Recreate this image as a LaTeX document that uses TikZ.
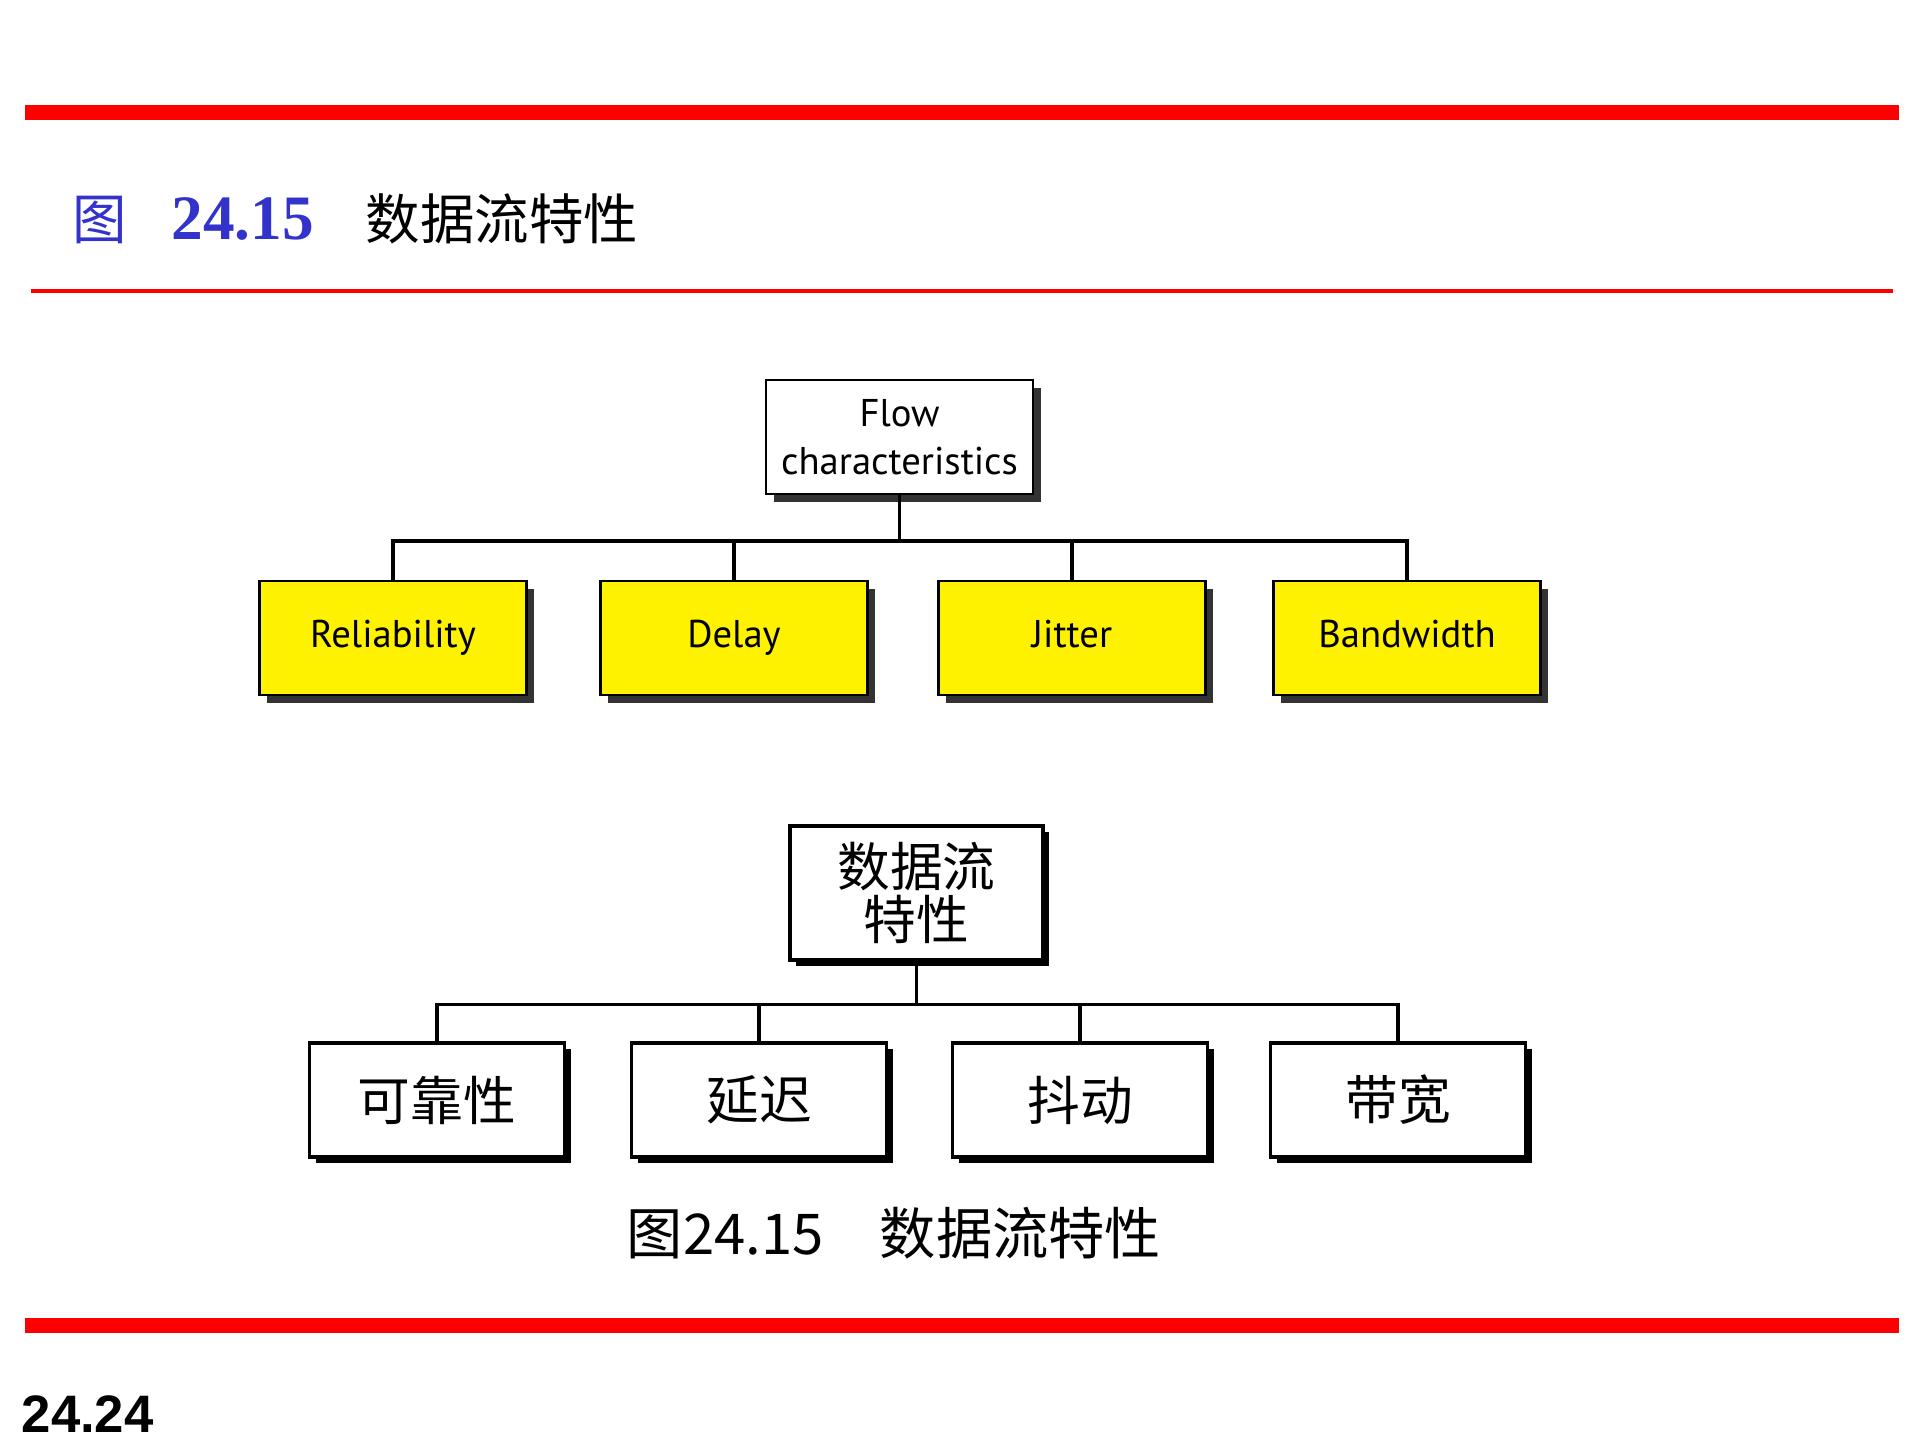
\documentclass[tikz,border=0pt]{standalone}
\usepackage{fontspec}
\setmainfont{Liberation Serif}
\newfontfamily\cjk{Noto Sans CJK SC}
\newfontfamily\boxfont{PT Sans}
\newfontfamily\pagefont{Liberation Sans}
\usetikzlibrary{shadows}
\definecolor{titleblue}{RGB}{51,51,204}
\definecolor{shadowgray}{RGB}{51,51,51}
\begin{document}
\begin{tikzpicture}[
    link/.style={line width=1.05pt},
    rule/.style={red, line width=0.15cm},
    flowbox/.style={rectangle, draw, line width=0.7pt, fill=white, minimum width=2.67cm, minimum height=1.14cm, inner sep=0pt, align=center, font={\boxfont\fontsize{11}{13.5}\selectfont}, drop shadow={shadow xshift=0.075cm, shadow yshift=-0.08cm, fill=shadowgray, opacity=1}},
    leaf/.style={flowbox, fill=yellow, text height=8pt, text depth=2.5pt},
    cnbox/.style={rectangle, draw, line width=1.1pt, fill=white, minimum width=2.55cm, minimum height=1.14cm, inner sep=0pt, align=center, font={\cjk\fontsize{15}{15}\selectfont}, drop shadow={shadow xshift=0.06cm, shadow yshift=-0.06cm, fill=black, opacity=1}}
]
\useasboundingbox (0,0) rectangle (19.2,-14.4);

% Page rules
\draw[rule] (0.25,-1.126) -- (18.99,-1.126);
\draw[red, line width=0.04cm] (0.31,-2.91) -- (18.93,-2.91);
\draw[rule] (0.25,-13.25) -- (18.99,-13.25);

% Title
\node[anchor=base west, inner sep=0pt, text=titleblue, font={\cjk\fontsize{15.5}{16}\selectfont}] (tfig) at (0.72,-2.39) {图};
\node[anchor=base west, inner sep=0pt, text=titleblue, font={\bfseries\fontsize{18}{18}\selectfont}] (tnum) at (1.71,-2.39) {24.15};
\node[anchor=base west, inner sep=0pt, font={\cjk\fontsize{15.5}{16}\selectfont}] (ttext) at (3.65,-2.39) {数据流特性};

% English tree
\node[flowbox] (flow) at (8.995,-4.37) {Flow\\characteristics};
\node[leaf] (rel) at (3.93,-6.38) {Reliability};
\node[leaf] (delay) at (7.34,-6.38) {Delay};
\node[leaf] (jitter) at (10.72,-6.38) {Jitter};
\node[leaf] (bw) at (14.07,-6.38) {Bandwidth};

\coordinate (fbus) at (8.995,-5.41);
\draw[link] (flow) -- (fbus);
\draw[link] (fbus) -| (rel);
\draw[link] (fbus) -| (delay);
\draw[link] (fbus) -| (jitter);
\draw[link] (fbus) -| (bw);

% Chinese tree
\node[cnbox, minimum width=2.53cm, minimum height=1.34cm] (cflow) at (9.165,-8.93) {数据流\\特性};
\node[cnbox] (crel) at (4.37,-11.0) {可靠性};
\node[cnbox] (cdelay) at (7.59,-11.0) {延迟};
\node[cnbox] (cjitter) at (10.80,-11.0) {抖动};
\node[cnbox] (cbw) at (13.98,-11.0) {带宽};

\coordinate (cbus) at (9.165,-10.045);
\draw[link] (cflow) -- (cbus);
\draw[link] (cbus) -| (crel);
\draw[link] (cbus) -| (cdelay);
\draw[link] (cbus) -| (cjitter);
\draw[link] (cbus) -| (cbw);

% Caption and page number
\node[anchor=base, inner sep=0pt, font={\cjk\fontsize{16}{16}\selectfont}] (caption) at (8.94,-12.54) {图24.15　数据流特性};
\node[anchor=base west, inner sep=0pt, font={\pagefont\bfseries\fontsize{15}{15}\selectfont}] (page) at (0.21,-14.32) {24.24};

\end{tikzpicture}
\end{document}
